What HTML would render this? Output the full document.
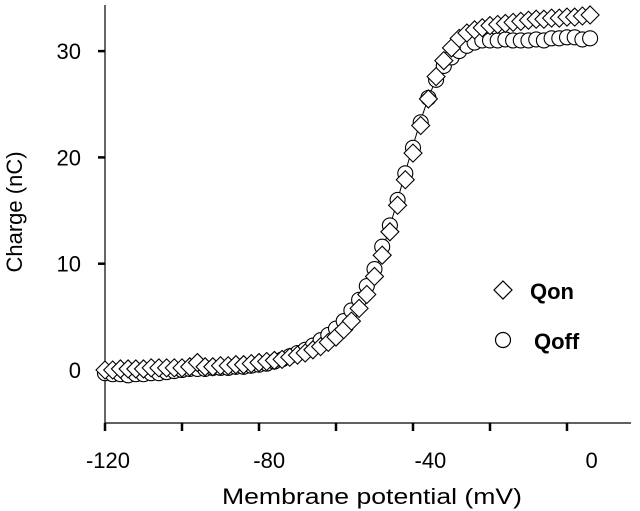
<!DOCTYPE html>
<html><head><meta charset="utf-8"><style>
body{margin:0;background:#fff}
svg{display:block;font-family:"Liberation Sans",Arial,sans-serif}
</style></head><body>
<svg id="chart" width="640" height="511" viewBox="0 0 640 511">
<g id="axes"></g>
<g id="fit"></g>
<g id="marks"></g>
<g>
<path d="M503 281 L512 290 L503 299 L494 290 Z" fill="#fff" stroke="#000" stroke-width="1.2"/>
<text x="530" y="299" font-size="22" font-weight="bold">Qon</text>
<circle cx="503" cy="340" r="7.5" fill="#fff" stroke="#000" stroke-width="1.2"/>
<text x="534" y="349" font-size="22" font-weight="bold">Qoff</text>
</g>
<text x="372" y="504" font-size="22" text-anchor="middle" textLength="300" lengthAdjust="spacingAndGlyphs">Membrane potential (mV)</text>
<text transform="translate(22,212) rotate(-90)" font-size="22" text-anchor="middle">Charge (nC)</text>
</svg>
<script>
const voltages=[-120,-118,-116,-114,-112,-110,-108,-106,-104,-102,-100,-98,-96,-94,-92,-90,-88,-86,-84,-82,-80,-78,-76,-74,-72,-70,-68,-66,-64,-62,-60,-58,-56,-54,-52,-50,-48,-46,-44,-42,-40,-38,-36,-34,-32,-30,-28,-26,-24,-22,-20,-18,-16,-14,-12,-10,-8,-6,-4,-2,0,2,4,6];
const qon=[0,0,0.1,0.1,0.1,0.1,0.2,0.2,0.2,0.2,0.2,0.3,0.7,0.3,0.3,0.4,0.4,0.5,0.5,0.6,0.7,0.8,0.9,1.0,1.2,1.4,1.6,1.9,2.2,2.6,3.1,3.8,4.6,5.8,7.1,8.8,10.8,13.0,15.5,17.9,20.4,23.0,25.5,27.6,29.1,30.3,31.2,31.7,32.0,32.2,32.4,32.5,32.6,32.7,32.8,32.9,33.0,33.0,33.1,33.1,33.2,33.2,33.3,33.4];
const qoff=[-0.3,-0.4,-0.4,-0.5,-0.4,-0.4,-0.3,-0.3,-0.2,-0.1,0,0.1,0.1,0.1,0.2,0.2,0.2,0.3,0.3,0.4,0.5,0.6,0.8,1.0,1.3,1.6,1.9,2.3,2.8,3.3,3.9,4.6,5.6,6.6,7.9,9.5,11.6,13.6,16.0,18.5,20.9,23.3,25.6,27.3,28.6,29.4,30.0,30.5,30.8,31.0,31.0,31.0,31.1,31.0,31.0,31.0,31.1,31.0,31.2,31.2,31.3,31.3,31.1,31.2];
const fitValues=[0,0.05,0.1,0.1,0.15,0.15,0.2,0.2,0.25,0.25,0.3,0.35,0.4,0.45,0.5,0.55,0.6,0.65,0.7,0.8,0.9,1.0,1.1,1.25,1.4,1.6,1.85,2.1,2.5,2.9,3.4,4.1,5.0,6.1,7.5,9.2,11.2,13.5,16.0,18.6,21.1,23.5,25.6,27.4,28.8,29.9,30.7,31.2,31.6,31.9,32.1,32.3,32.4,32.5,32.6,32.7,32.8,32.9,33.0,33.0,33.1,33.1,33.2,33.3];
const xTicks=[-120,-100,-80,-60,-40,-20,0];
const xLabels=["-120","-80","-40","0"];
const xLabelVals=[-120,-80,-40,0];
const yTicks=[0,10,20,30];
const yLabels=["0","10","20","30"];

const NS="http://www.w3.org/2000/svg";
const x=v=>105+(v+120)*3.85;
const xl=v=>108+(v+120)*4.03;
const y=q=>370-q*10.63;
function mk(tag,attrs,parent){const e=document.createElementNS(NS,tag);for(const k in attrs)e.setAttribute(k,attrs[k]);parent.appendChild(e);return e;}
const axes=document.getElementById('axes');
let e=mk('line',{x1:105,y1:5,x2:105,y2:424,stroke:'#000','stroke-width':1.2},axes);


e=mk('line',{x1:105,y1:423,x2:631,y2:423,stroke:'#000','stroke-width':1.2},axes);


xTicks.forEach(v=>{const t=mk('line',{x1:x(v),y1:423,x2:x(v),y2:431,stroke:'#000','stroke-width':2.5},axes);

});
xLabelVals.forEach((v,i)=>{const t=mk('text',{x:xl(v),y:468,'font-size':22,'text-anchor':'middle'},axes);t.textContent=xLabels[i];

});
yTicks.forEach((q,i)=>{const t=mk('line',{x1:98,y1:y(q),x2:105,y2:y(q),stroke:'#000','stroke-width':2.5},axes);


const l=mk('text',{x:81,y:y(q)+8,'font-size':22,'text-anchor':'end'},axes);l.textContent=yLabels[i];

});
const fit=document.getElementById('fit');
const pl=mk('polyline',{points:voltages.map((v,i)=>x(v)+','+y(fitValues[i])).join(' '),fill:'none',stroke:'#000','stroke-width':1},fit);


const marks=document.getElementById('marks');
voltages.forEach((v,i)=>{const c=mk('circle',{cx:x(v),cy:y(qoff[i]),r:7.5,fill:'#fff',stroke:'#000','stroke-width':1.1},marks);

});
voltages.forEach((v,i)=>{const cx=x(v),cy=y(qon[i]);const d=mk('path',{d:`M${cx} ${cy-9}L${cx+9} ${cy}L${cx} ${cy+9}L${cx-9} ${cy}Z`,fill:'#fff',stroke:'#000','stroke-width':1.1},marks);

});
</script>
</body></html>
